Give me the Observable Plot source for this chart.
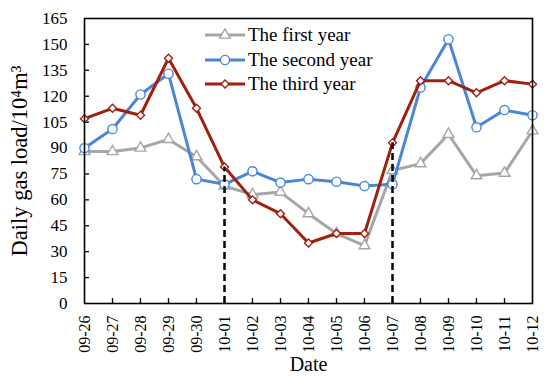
<!DOCTYPE html>
<html>
<head>
<meta charset="utf-8">
<script src="https://cdn.jsdelivr.net/npm/d3@7"></script>
<script src="https://cdn.jsdelivr.net/npm/@observablehq/plot@0.6"></script>
<style>
  html, body { margin: 0; padding: 0; background: #fff; }
  #wrap { position: relative; width: 550px; height: 384px; font-family: "Liberation Serif", "Times New Roman", serif; }
  #legend { position: absolute; left: 205px; top: 23px; }
  .row { display: flex; align-items: center; height: 24.5px; font-size: 19px; color: #000; }
  .row svg { margin-right: 3px; }
</style>
</head>
<body>
<div id="wrap"></div>
<script>
const dates = ["09-26","09-27","09-28","09-29","09-30","10-01","10-02","10-03","10-04","10-05","10-06","10-07","10-08","10-09","10-10","10-11","10-12"];
const firstYear  = [88, 88, 90, 95, 85, 68, 63, 64.5, 52, 40.5, 33.5, 77, 81, 98, 74, 75.5, 100];
const secondYear = [90, 101, 121, 133, 72, 69, 76.5, 70, 72, 70.5, 68, 69, 125, 153, 102, 112, 109];
const thirdYear  = [107, 113, 109, 142, 113, 79, 60, 52, 35, 40.5, 40.5, 93, 129, 129, 122, 129, 127];
const seriesNames = ["The first year", "The second year", "The third year"];
const seriesColors = ["#A6A6A6", "#4A86D6", "#A0200F"];
const seriesSymbols = ["triangle", "circle", "diamond2"];
const seriesR = [4, 4.6, 3.6];
const dropDates = ["10-01", "10-07"];
const dropValues = [79, 93];
const yTicks = [0, 15, 30, 45, 60, 75, 90, 105, 120, 135, 150, 165];

const allValues = [firstYear, secondYear, thirdYear];
const rows = [];
allValues.forEach((vals, s) => vals.forEach((v, i) => rows.push({series: seriesNames[s], date: dates[i], value: v})));
const drops = dropDates.map((d, i) => ({date: d, value: dropValues[i]}));

const marks = [];
seriesNames.forEach((name, s) => {
  const data = rows.filter(r => r.series === name);
  marks.push(Plot.line(data, {x: "date", y: "value", stroke: seriesColors[s], strokeWidth: 3}));
  marks.push(Plot.dot(data, {x: "date", y: "value", symbol: seriesSymbols[s], r: seriesR[s], fill: "white", stroke: seriesColors[s], strokeWidth: 1.4}));
});

const chart = Plot.plot({
  width: 550,
  height: 384,
  marginLeft: 84,
  marginRight: 18,
  marginTop: 18,
  marginBottom: 81,
  style: {fontFamily: "Liberation Serif, Times New Roman, serif", color: "#000", background: "white"},
  x: {type: "point", domain: dates, padding: 0},
  y: {domain: [0, 165]},
  marks: [
    Plot.axisY({ticks: yTicks, tickSize: 0, tickPadding: 17, fontSize: 17, label: null}),
    Plot.axisY({ticks: [], tickSize: 0, label: "Daily gas load/10\u2074m\u00B3", labelAnchor: "center", labelArrow: "none", labelOffset: 73, fontSize: 22.5}),
    Plot.axisX({tickSize: 0, tickPadding: 12, tickRotate: -90, fontSize: 16, label: null}),
    Plot.axisX({ticks: [], tickSize: 0, label: "Date", labelAnchor: "center", labelArrow: "none", labelOffset: 67, fontSize: 20}),
    Plot.ruleY(yTicks.slice(1, -1), {y: d => d, x1: () => dates[0], x2: () => dates[0], insetRight: -5, stroke: "black", strokeWidth: 1.3}),
    Plot.ruleX(dates.slice(1, -1), {x: d => d, y1: () => 0, y2: () => 0, insetTop: -5, stroke: "black", strokeWidth: 1.3}),
    ...marks,
    Plot.ruleX(drops, {x: "date", y1: () => 0, y2: "value", stroke: "black", strokeWidth: 2.5, strokeDasharray: "7,4"}),
    Plot.frame({stroke: "black", strokeWidth: 1.6})
  ]
});

const wrap = document.getElementById("wrap");
wrap.appendChild(chart);

const legend = document.createElement("div");
legend.id = "legend";
seriesNames.forEach((name, s) => {
  const row = document.createElement("div");
  row.className = "row";
  const sym = d3.symbol(s === 0 ? d3.symbolTriangle : s === 1 ? d3.symbolCircle : d3.symbolDiamond2, Math.PI * seriesR[s] * seriesR[s])();
  row.innerHTML = `<svg width="40" height="14"><line x1="0" x2="40" y1="7" y2="7" stroke="${seriesColors[s]}" stroke-width="3"/><path d="${sym}" transform="translate(20,7)" fill="white" stroke="${seriesColors[s]}" stroke-width="1.4"/></svg><span>${name}</span>`;
  legend.appendChild(row);
});
wrap.appendChild(legend);
</script>
</body>
</html>
